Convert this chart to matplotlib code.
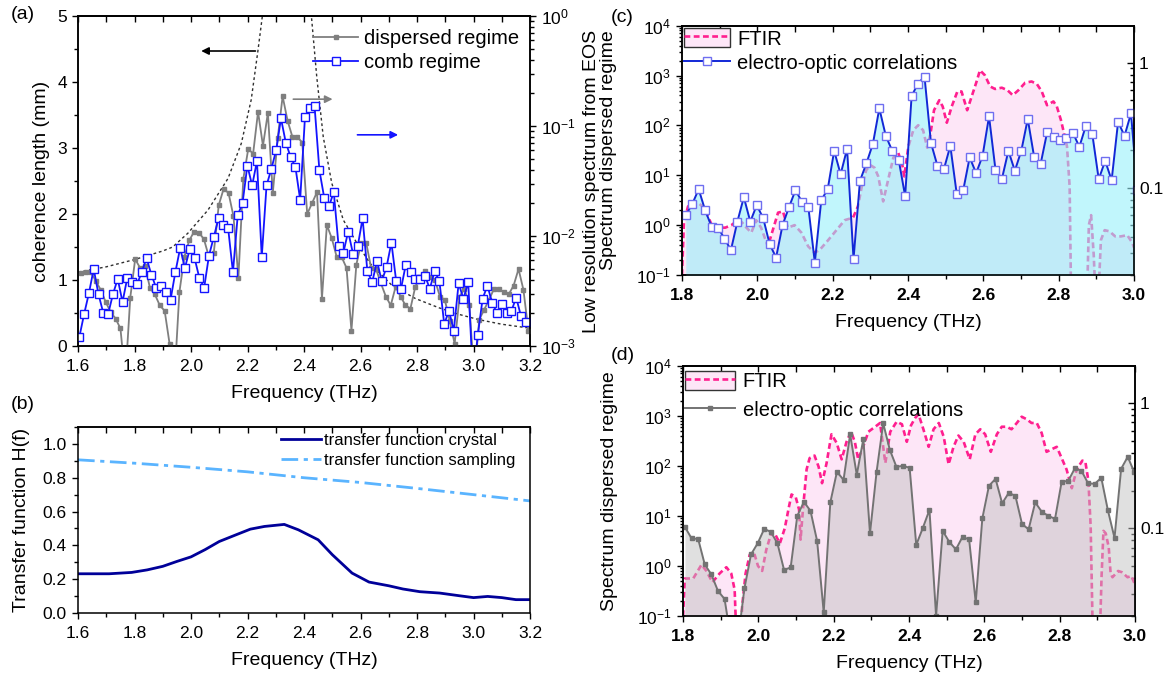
import numpy as np
import matplotlib
matplotlib.use("Agg")
import matplotlib.pyplot as plt
from matplotlib.ticker import (MultipleLocator, LogLocator, FixedLocator, FixedFormatter,
                               NullFormatter, FormatStrFormatter)
from matplotlib.patches import Patch
from matplotlib.lines import Line2D

plt.rcParams["font.family"] = ["Liberation Sans", "DejaVu Sans"]
plt.rcParams["mathtext.fontset"] = "custom"
plt.rcParams["mathtext.rm"] = "Liberation Sans"
plt.rcParams["mathtext.it"] = "Liberation Sans:italic"
plt.rcParams["mathtext.bf"] = "Liberation Sans:bold"
plt.rcParams["axes.linewidth"] = 1.1

GRAY = "#7f7f7f"; BLUE = "#1414ff"; BLUE_C = "#1228d6"; SQ_C = "#6f6ff0"
PINK = "#ff1f8f"; PINK_FILL = "#fde6f7"; CYAN_FILL = "#98f0fa"; GRAY_FILL = "#c2c2c2"
NAVY = "#000099"; LIGHTBLUE = "#5ab4ff"

# ---------------- (a) ----------------
# log10 of the low-resolution EOS spectra (right axis), evenly sampled
comb_log10 = [-2.92,-2.71,-2.52,-2.30,-2.53,-2.70,-2.71,-2.53,-2.39,-2.60,
              -2.38,-2.42,-2.44,-2.33,-2.20,-2.35,-2.47,-2.45,-2.51,-2.58,
              -2.33,-2.11,-2.29,-2.12,-2.20,-2.38,-2.47,-2.18,-2.01,-1.84,
              -1.90,-1.93,-2.33,-1.81,-1.70,-1.36,-1.54,-1.32,-2.19,-1.54,
              -1.39,-1.22,-0.93,-1.15,-1.28,-1.37,-1.67,-0.92,-0.84,-0.82,
              -1.40,-1.65,-1.73,-1.60,-2.09,-2.15,-1.96,-2.16,-2.09,-1.84,
              -2.32,-2.42,-2.23,-2.41,-2.28,-2.06,-2.41,-2.48,-2.26,-2.33,
              -2.39,-2.39,-2.36,-2.48,-2.32,-2.41,-2.80,-2.68,-2.86,-2.43,
              -2.57,-2.42,-3.30,-2.90,-2.57,-2.45,-2.61,-2.70,-2.62,-2.70,
              -2.68,-2.56,-2.73,-2.78]
comb_range = (1.6046, 3.185)
disp_log10 = [-2.34,-2.33,-2.33,-2.41,-2.49,-2.60,-2.69,-2.75,-2.84,-3.30,
              -2.56,-2.21,-2.29,-2.27,-2.47,-2.53,-2.63,-2.68,-2.98,-3.30,
              -2.51,-2.19,-2.04,-1.96,-1.97,-2.03,-2.19,-2.15,-1.72,-1.57,
              -1.61,-1.82,-2.38,-1.48,-1.21,-1.25,-0.87,-1.18,-0.88,-1.61,
              -1.11,-0.73,-0.95,-1.10,-1.10,-1.15,-1.80,-1.70,-1.60,-2.57,
              -1.90,-2.02,-2.19,-2.19,-2.29,-2.86,-2.26,-2.06,-2.06,-2.29,
              -2.30,-2.43,-2.55,-2.63,-2.46,-2.55,-2.63,-2.66,-2.46,-2.37,
              -2.32,-2.37,-2.40,-2.55,-2.58,-2.77,-2.98,-2.55,-2.48,-2.63,
              -3.30,-2.76,-2.67,-2.58,-2.48,-2.48,-2.51,-2.53,-2.45,-2.30,
              -2.49,-2.86]
disp_range = (1.611, 3.194)
# coherence length (left axis), two branches around the divergence
coh_lo_f = [1.60, 1.70, 1.80, 1.90, 1.935, 1.989, 2.06, 2.131, 2.178, 2.213, 2.237, 2.254]
coh_lo = [1.12, 1.20, 1.31, 1.44, 1.50, 1.71, 2.06, 2.54, 3.07, 3.73, 4.48, 5.05]
coh_hi_f = [2.425, 2.445, 2.468, 2.498, 2.539, 2.587, 2.634, 2.711, 2.794, 2.877, 2.948, 3.018, 3.10, 3.20]
coh_hi = [5.05, 4.08, 3.17, 2.47, 1.91, 1.56, 1.25, 0.92, 0.72, 0.58, 0.48, 0.40, 0.33, 0.27]

# ---------------- (b) ----------------
tf_f = [1.60, 1.71, 1.79, 1.845, 1.90, 1.95, 2.00, 2.05, 2.10, 2.16, 2.21, 2.26, 2.33, 2.38,
        2.45, 2.50, 2.57, 2.63, 2.70, 2.75, 2.81, 2.88, 2.95, 3.00, 3.05, 3.10, 3.15, 3.20]
tf_crystal = [0.232, 0.232, 0.240, 0.255, 0.276, 0.305, 0.332, 0.375, 0.423, 0.463, 0.496, 0.512,
              0.524, 0.492, 0.433, 0.345, 0.236, 0.183, 0.161, 0.142, 0.126, 0.118, 0.102, 0.091,
              0.098, 0.091, 0.079, 0.079]
ts_f = [1.6, 1.8, 2.0, 2.2, 2.4, 2.6, 2.8, 3.0, 3.2]
tf_sampling = [0.906, 0.886, 0.862, 0.835, 0.800, 0.772, 0.737, 0.700, 0.663]

# ---------------- (c) ----------------
eos_c_log10 = [0.20,0.42,0.72,0.30,-0.03,-0.05,-0.27,-0.50,0.07,0.56,
               0.07,0.40,0.14,-0.38,-0.65,0.00,0.36,0.70,0.47,0.36,
               -0.75,0.50,0.72,1.49,1.02,1.53,-0.68,0.89,1.24,1.63,
               2.34,1.79,1.49,1.31,0.58,2.59,2.84,2.98,1.65,1.19,
               1.12,1.59,0.62,0.70,1.36,1.04,1.39,2.18,1.11,0.93,
               1.49,1.09,1.49,2.13,1.36,1.23,1.86,1.76,1.71,1.74,
               1.85,1.57,1.99,1.83,0.92,1.29,0.90,2.07,1.79,2.24,
               0.70]
eos_c_range = (1.810, 3.009)
ftir_c_f = [1.800,1.805,1.816,1.834,1.851,1.869,1.882,1.900,1.915,1.931,
            1.949,1.960,1.971,1.984,1.997,2.010,2.028,2.044,2.055,2.068,
            2.081,2.099,2.117,2.135,2.152,2.165,2.188,2.210,2.232,2.254,
            2.267,2.278,2.289,2.300,2.311,2.321,2.334,2.347,2.361,2.374,
            2.385,2.390,2.401,2.414,2.427,2.440,2.451,2.460,2.469,2.483,
            2.492,2.503,2.516,2.531,2.542,2.557,2.581,2.591,2.604,2.618,
            2.631,2.649,2.664,2.678,2.693,2.711,2.728,2.742,2.755,2.769,
            2.786,2.795,2.806,2.813,2.822,2.829,2.833,2.875,2.880,2.886,
            2.893,2.898,2.905,2.912,2.922,2.935,2.950,2.965,2.982,2.995,
            3.000]
ftir_c_log10 = [-1.70,-1.28,-1.15,-1.11,-1.14,-1.23,-1.32,-1.32,-1.32,-1.30,
                -1.26,-1.28,-1.32,-1.36,-1.26,-1.32,-1.47,-1.31,-1.20,-1.19,
                -1.32,-1.30,-1.36,-1.47,-1.52,-1.50,-1.42,-1.34,-1.26,-1.24,
                -1.15,-0.98,-0.86,-0.82,-0.84,-0.91,-1.11,-0.94,-0.76,-0.72,
                -0.82,-0.91,-0.67,-0.54,-0.50,-0.54,-0.68,-0.56,-0.38,-0.30,
                -0.35,-0.48,-0.35,-0.23,-0.23,-0.38,-0.16,-0.06,-0.10,-0.19,
                -0.21,-0.20,-0.22,-0.26,-0.22,-0.16,-0.15,-0.17,-0.23,-0.34,
                -0.31,-0.35,-0.46,-0.55,-0.67,-0.99,-1.90,-1.90,-1.30,-1.22,
                -1.54,-1.90,-1.90,-1.42,-1.34,-1.35,-1.39,-1.39,-1.38,-1.44,
                -1.48]

# ---------------- (d) ----------------
eos_d_log10 = [0.78,0.55,0.54,0.03,-0.17,-0.50,-0.66,-1.50,-1.50,-0.45,
               0.23,0.45,0.74,0.68,0.45,-0.08,-0.03,1.00,1.28,1.10,
               0.50,-0.93,1.27,1.88,1.72,2.63,1.82,2.54,0.65,1.88,
               2.85,2.32,1.98,2.00,1.96,0.42,0.76,1.12,-1.00,0.70,
               0.48,0.33,0.58,0.53,-0.73,0.95,1.60,1.74,1.25,1.46,
               1.40,0.84,0.73,1.27,1.08,1.00,0.94,1.68,1.70,1.95,
               1.90,1.65,1.64,1.76,1.11,0.56,1.94,2.18,1.87]
eos_d_range = (1.805, 2.998)
ftir_d_f = [1.800,1.805,1.827,1.849,1.862,1.878,1.897,1.915,1.928,1.937,
            1.942,1.952,1.957,1.966,1.977,1.988,1.999,2.010,2.021,2.035,
            2.045,2.057,2.070,2.081,2.088,2.099,2.108,2.112,2.118,2.128,
            2.136,2.149,2.160,2.169,2.181,2.194,2.208,2.221,2.234,2.246,
            2.256,2.265,2.278,2.292,2.310,2.323,2.337,2.350,2.367,2.381,
            2.394,2.405,2.416,2.425,2.438,2.452,2.465,2.479,2.492,2.505,
            2.518,2.531,2.545,2.561,2.576,2.589,2.602,2.617,2.633,2.646,
            2.659,2.672,2.686,2.699,2.712,2.725,2.739,2.752,2.765,2.778,
            2.792,2.805,2.818,2.832,2.845,2.860,2.868,2.876,2.882,2.888,
            2.906,2.911,2.916,2.922,2.930,2.935,2.940,2.955,2.965,2.980,
            2.990,3.000]
ftir_d_log10 = [-1.70,-1.40,-1.40,-1.29,-1.34,-1.43,-1.36,-1.31,-1.36,-1.49,
                -1.90,-1.90,-1.62,-1.36,-1.21,-1.19,-1.30,-1.34,-1.17,-1.03,
                -1.05,-1.12,-1.00,-0.83,-0.73,-0.75,-0.85,-1.09,-0.86,-0.53,
                -0.44,-0.42,-0.51,-0.64,-0.48,-0.25,-0.32,-0.45,-0.31,-0.23,
                -0.31,-0.45,-0.35,-0.23,-0.19,-0.16,-0.48,-0.23,-0.15,-0.17,
                -0.31,-0.18,-0.12,-0.09,-0.21,-0.35,-0.21,-0.16,-0.27,-0.49,
                -0.35,-0.26,-0.31,-0.45,-0.25,-0.21,-0.25,-0.39,-0.25,-0.19,
                -0.19,-0.21,-0.16,-0.11,-0.13,-0.16,-0.16,-0.24,-0.39,-0.37,
                -0.35,-0.44,-0.53,-0.68,-0.53,-0.46,-0.47,-0.62,-0.98,-1.90,
                -1.90,-1.38,-1.02,-1.04,-1.15,-1.36,-1.39,-1.34,-1.35,-1.39,
                -1.38,-1.45]


def freq_axis(ax, lo, hi, pad=8, weight="normal"):
    ax.set_xlim(lo, hi)
    ax.xaxis.set_major_locator(MultipleLocator(0.2))
    ax.xaxis.set_minor_locator(MultipleLocator(0.1))
    ax.xaxis.set_major_formatter(FormatStrFormatter("%.1f"))
    ax.tick_params(axis="x", which="both", direction="out", labelsize=12.5, pad=5, width=1)
    ax.tick_params(axis="x", which="major", length=4.5)
    ax.tick_params(axis="x", which="minor", length=3)
    for t in ax.get_xticklabels():
        t.set_fontweight(weight)
    ax.set_xlabel("Frequency (THz)", fontsize=14, labelpad=pad)
    top = ax.secondary_xaxis("top")
    top.xaxis.set_major_locator(MultipleLocator(0.1))
    top.xaxis.set_major_formatter(NullFormatter())
    top.tick_params(direction="in", length=4, width=1)


fig = plt.figure(figsize=(11.66, 6.79), dpi=100)
ax_a = fig.add_axes([0.0669, 0.4904, 0.3877, 0.4860])
ax_b = fig.add_axes([0.0669, 0.0972, 0.3877, 0.2739])
ax_c = fig.add_axes([0.5849, 0.5950, 0.3877, 0.3672])
ax_d = fig.add_axes([0.5858, 0.0928, 0.3877, 0.3686])

# ---- (a)
ax_a.plot(coh_lo_f, coh_lo, color="#303030", lw=1.0, ls=(0, (2, 2)))
ax_a.plot(coh_hi_f, coh_hi, color="#303030", lw=1.0, ls=(0, (2, 2)))
ax_a.set_ylim(0, 5)
ax_a.yaxis.set_major_locator(MultipleLocator(1))
ax_a.yaxis.set_minor_locator(MultipleLocator(0.5))
ax_a.tick_params(axis="y", which="both", direction="out", labelsize=12.5, width=1)
ax_a.tick_params(axis="y", which="major", length=4.5)
ax_a.tick_params(axis="y", which="minor", length=3)
ax_a.set_ylabel("coherence length (mm)", fontsize=14, labelpad=5)
freq_axis(ax_a, 1.6, 3.2)
ax_a.annotate("", xy=(2.036, 4.47), xytext=(2.228, 4.47),
              arrowprops=dict(arrowstyle="-|>", color="black", lw=1.2, mutation_scale=11,
                              shrinkA=0, shrinkB=0))
ax_a.annotate("", xy=(2.501, 3.74), xytext=(2.362, 3.74),
              arrowprops=dict(arrowstyle="-|>", color=GRAY, lw=1.2, mutation_scale=11,
                              shrinkA=0, shrinkB=0))
ax_a.annotate("", xy=(2.733, 3.20), xytext=(2.589, 3.20),
              arrowprops=dict(arrowstyle="-|>", color=BLUE, lw=1.2, mutation_scale=11,
                              shrinkA=0, shrinkB=0))

tw_a = ax_a.twinx()
tw_a.set_yscale("log")
f_disp = np.linspace(disp_range[0], disp_range[1], len(disp_log10))
f_comb = np.linspace(comb_range[0], comb_range[1], len(comb_log10))
h_disp, = tw_a.plot(f_disp, 10 ** np.array(disp_log10), color=GRAY, lw=1.3, marker="s", ms=3,
                    label="dispersed regime")
h_comb, = tw_a.plot(f_comb, 10 ** np.array(comb_log10), color=BLUE, lw=1.3, marker="s", ms=5.5,
                    mfc="white", mec=BLUE, mew=1.0, label="comb regime")
tw_a.set_ylim(1e-3, 1)
tw_a.yaxis.set_major_locator(LogLocator(base=10, numticks=10))
tw_a.yaxis.set_minor_locator(LogLocator(base=10, subs=np.arange(2, 10), numticks=20))
tw_a.yaxis.set_minor_formatter(NullFormatter())
tw_a.tick_params(axis="y", which="both", direction="out", labelsize=12.5, width=1)
tw_a.tick_params(axis="y", which="major", length=4.5)
tw_a.tick_params(axis="y", which="minor", length=3)
tw_a.set_ylabel("Low resolution spectrum from EOS", fontsize=14, labelpad=5)
tw_a.legend(handles=[h_disp, h_comb], loc="upper left", bbox_to_anchor=(0.52, 0.962),
            frameon=False, fontsize=14.5, handlelength=2.25, handletextpad=0.3,
            borderpad=0, borderaxespad=0, labelspacing=0.28)

# ---- (b)
ax_b.plot(tf_f, tf_crystal, color=NAVY, lw=2.0, label="transfer function crystal")
ax_b.plot(ts_f, tf_sampling, color=LIGHTBLUE, lw=2.0, ls=(0, (6, 2, 1.5, 2)),
          label="transfer function sampling")
ax_b.set_ylim(0, 1.1)
ax_b.yaxis.set_major_locator(MultipleLocator(0.2))
ax_b.yaxis.set_minor_locator(MultipleLocator(0.1))
ax_b.yaxis.set_major_formatter(FormatStrFormatter("%.1f"))
ax_b.tick_params(axis="y", which="both", direction="out", labelsize=12.5, width=1)
ax_b.tick_params(axis="y", which="major", length=4.5)
ax_b.tick_params(axis="y", which="minor", length=3)
ax_b.set_ylabel("Transfer function H(f)", fontsize=14, labelpad=9)
freq_axis(ax_b, 1.6, 3.2)
ax_b.legend(loc="upper left", bbox_to_anchor=(0.448, 0.97), frameon=False, fontsize=12,
            handlelength=2.4, handletextpad=0.2, borderpad=0, borderaxespad=0, labelspacing=0.3)


# ---- (c) and (d)
def spectrum_panel(ax, eos_f, eos, eos_style, fill_color, fill_alpha, ftir_f, ftir, ylabelpad):
    tw = ax.twinx()
    ax.set_zorder(tw.get_zorder() + 1)
    ax.patch.set_visible(False)
    # FTIR on the right axis, drawn underneath
    tw.set_yscale("log")
    tw.fill_between(ftir_f, ftir, 1e-3, color=PINK_FILL, lw=0)
    tw.plot(ftir_f, ftir, color=PINK, lw=1.9, ls=(0, (2.2, 1.3)))
    tw.set_ylim(0.02, 1.98)
    tw.yaxis.set_major_locator(FixedLocator([0.1, 1]))
    tw.yaxis.set_major_formatter(FixedFormatter(["0.1", "1"]))
    tw.yaxis.set_minor_locator(LogLocator(base=10, subs=np.arange(2, 10), numticks=20))
    tw.yaxis.set_minor_formatter(NullFormatter())
    tw.tick_params(axis="y", which="both", direction="in", labelsize=12.5, width=1)
    tw.tick_params(axis="y", which="major", length=5)
    tw.tick_params(axis="y", which="minor", length=3)
    # EOS on the left axis, drawn on top
    ax.set_yscale("log")
    ax.fill_between(eos_f, eos, 1e-3, color=fill_color, alpha=fill_alpha, lw=0)
    h_eos, = ax.plot(eos_f, eos, **eos_style)
    ax.set_ylim(0.1, 1e4)
    ax.yaxis.set_major_locator(LogLocator(base=10, numticks=10))
    ax.yaxis.set_minor_locator(LogLocator(base=10, subs=np.arange(2, 10), numticks=20))
    ax.yaxis.set_minor_formatter(NullFormatter())
    ax.tick_params(axis="y", which="both", direction="out", labelsize=12.5, width=1)
    ax.tick_params(axis="y", which="major", length=4.5)
    ax.tick_params(axis="y", which="minor", length=2.5)
    ax.set_ylabel("Spectrum dispersed regime", fontsize=14, labelpad=ylabelpad)
    freq_axis(ax, 1.8, 3.0, weight="bold")
    ftir_handle = (Patch(facecolor=PINK_FILL, edgecolor="#333333", lw=1.0),
                   Line2D([], [], color=PINK, lw=1.9, ls=(0, (2.2, 1.3))))
    return tw, ftir_handle, h_eos


f_c = np.linspace(eos_c_range[0], eos_c_range[1], len(eos_c_log10))
style_c = dict(color=BLUE_C, lw=1.4, marker="s", ms=5.5, mfc="white", mec=SQ_C, mew=1.0)
tw_c, fh_c, eh_c = spectrum_panel(ax_c, f_c, 10 ** np.array(eos_c_log10), style_c, CYAN_FILL, 0.6,
                                  ftir_c_f, 10 ** np.array(ftir_c_log10), 14)
ax_c.legend([fh_c, eh_c], ["FTIR", "electro-optic correlations"], loc="upper left",
            bbox_to_anchor=(0.004, 0.99), frameon=False, fontsize=14.5, handlelength=2.3,
            handleheight=1.1, handletextpad=0.35, borderpad=0, borderaxespad=0, labelspacing=0.2)

f_d = np.linspace(eos_d_range[0], eos_d_range[1], len(eos_d_log10))
style_d = dict(color="#737373", lw=1.4, marker="s", ms=3)
tw_d, fh_d, eh_d = spectrum_panel(ax_d, f_d, 10 ** np.array(eos_d_log10), style_d, GRAY_FILL, 0.5,
                                  ftir_d_f, 10 ** np.array(ftir_d_log10), 14)
ax_d.legend([fh_d, eh_d], ["FTIR", "electro-optic correlations"], loc="upper left",
            bbox_to_anchor=(0.005, 0.98), frameon=False, fontsize=14.5, handlelength=2.45,
            handleheight=1.1, handletextpad=0.4, borderpad=0, borderaxespad=0, labelspacing=0.4)

# panel letters
for x, y, s in [(0.0094, 0.978, "(a)"), (0.0094, 0.405, "(b)"),
                (0.524, 0.9735, "(c)"), (0.524, 0.477, "(d)")]:
    fig.text(x, y, s, fontsize=14, ha="left", va="center")

fig.savefig("out.png", dpi=100)
